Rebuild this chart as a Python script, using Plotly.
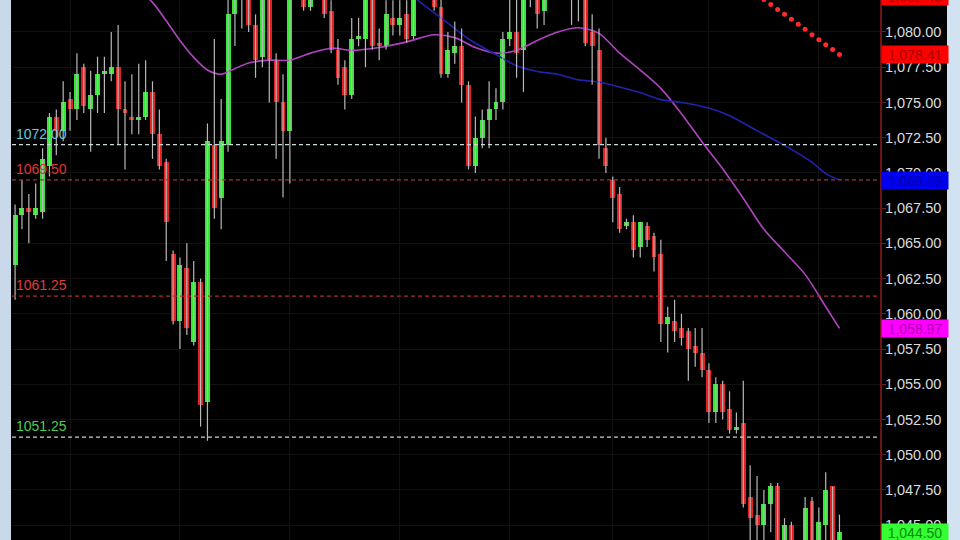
import plotly.graph_objects as go

# ---------------- data ----------------
open_ = [1063.5, 1067.0, 1067.5, 1067.0, 1067.25, 1070.5, 1074.0, 1073.0, 1075.25, 1074.5,
         1077.5, 1074.5, 1075.5, 1077.0, 1077.0, 1077.5, 1074.5, 1074.0, 1073.75, 1074.0,
         1075.75, 1072.75, 1070.75, 1064.25, 1059.5, 1063.25, 1058.0, 1062.25, 1053.75, 1072.0,
         1068.25, 1072.0, 1081.25, 1083.0, 1083.5, 1080.5, 1078.25, 1082.5, 1078.0, 1075.0,
         1073.0, 1083.0, 1083.0, 1081.75, 1083.0, 1083.0, 1081.5, 1078.75, 1077.5, 1075.5,
         1079.5, 1079.5, 1082.5, 1079.25, 1079.0, 1081.0, 1080.5, 1081.25, 1079.75, 1083.0,
         1084.0, 1083.5, 1081.75, 1077.0, 1078.5, 1079.0, 1076.25, 1070.5, 1072.5, 1073.75,
         1074.5, 1075.0, 1079.5, 1080.0, 1078.75, 1083.0, 1082.5, 1081.5, 1083.5, 1084.5,
         1085.0, 1084.0, 1083.5, 1083.0, 1080.0, 1078.75, 1071.75, 1069.5, 1068.5, 1066.25,
         1066.5, 1064.75, 1066.25, 1065.5, 1064.25, 1059.25, 1059.5, 1059.0, 1058.75, 1057.75,
         1057.25, 1056.0, 1053.0, 1055.0, 1053.25, 1051.75, 1052.25, 1047.0, 1045.75, 1045.0,
         1046.5, 1047.75, 1043.75, 1045.0, 1043.5, 1043.5, 1046.75, 1043.5, 1045.0, 1047.75,
         1043.75]
high = [1067.75, 1069.5, 1068.5, 1069.25, 1071.75, 1074.25, 1074.5, 1076.5, 1075.75, 1078.5,
        1077.75, 1077.25, 1078.25, 1078.25, 1080.0, 1080.5, 1076.5, 1077.0, 1077.75, 1078.0,
        1076.5, 1074.5, 1071.0, 1064.5, 1064.0, 1065.0, 1063.75, 1062.5, 1073.5, 1079.5,
        1075.25, 1083.0, 1084.0, 1084.5, 1084.0, 1081.25, 1083.5, 1083.5, 1078.5, 1077.0,
        1084.0, 1084.5, 1084.0, 1084.0, 1084.5, 1084.0, 1082.25, 1079.5, 1078.0, 1081.0,
        1081.0, 1083.5, 1083.5, 1080.25, 1082.25, 1082.25, 1082.25, 1082.25, 1083.5, 1084.5,
        1085.0, 1084.5, 1082.5, 1080.0, 1080.75, 1080.25, 1076.5, 1074.0, 1074.5, 1076.5,
        1076.0, 1080.0, 1082.5, 1082.5, 1083.5, 1084.0, 1083.5, 1083.5, 1085.0, 1085.5,
        1086.0, 1085.0, 1084.5, 1084.0, 1081.25, 1080.25, 1072.5, 1069.75, 1069.0, 1066.75,
        1067.0, 1066.5, 1066.5, 1065.75, 1065.25, 1060.5, 1061.0, 1060.0, 1059.0, 1059.0,
        1059.0, 1056.5, 1055.5, 1055.25, 1054.5, 1053.0, 1055.25, 1049.25, 1048.5, 1047.5,
        1048.0, 1048.0, 1045.5, 1045.25, 1043.75, 1047.0, 1047.0, 1046.25, 1048.75, 1047.75,
        1045.75]
low = [1061.0, 1066.0, 1065.0, 1066.75, 1066.75, 1069.75, 1071.25, 1072.25, 1073.0, 1073.75,
       1074.25, 1071.5, 1074.25, 1074.25, 1076.5, 1072.0, 1070.25, 1072.75, 1072.75, 1073.75,
       1071.0, 1070.25, 1063.75, 1059.25, 1057.5, 1058.5, 1057.75, 1052.0, 1051.0, 1066.75,
       1066.0, 1071.5, 1079.0, 1080.25, 1080.0, 1076.75, 1077.5, 1075.0, 1071.0, 1068.25,
       1069.25, 1082.75, 1081.5, 1081.5, 1082.75, 1081.0, 1078.5, 1076.25, 1074.5, 1075.25,
       1079.0, 1077.5, 1078.75, 1078.0, 1078.75, 1079.75, 1079.75, 1079.25, 1079.5, 1082.5,
       1082.75, 1081.5, 1076.75, 1076.75, 1077.75, 1075.0, 1070.25, 1070.0, 1071.75, 1071.75,
       1073.75, 1074.5, 1079.0, 1076.75, 1075.75, 1081.75, 1080.25, 1080.5, 1083.0, 1083.5,
       1083.25, 1080.5, 1080.75, 1079.0, 1076.25, 1071.0, 1070.0, 1066.5, 1065.75, 1066.0,
       1064.0, 1064.0, 1064.75, 1063.0, 1058.0, 1057.25, 1058.0, 1057.75, 1055.25, 1056.25,
       1055.5, 1052.25, 1052.25, 1052.5, 1051.5, 1051.5, 1046.25, 1043.5, 1043.5, 1043.75,
       1044.5, 1043.25, 1043.25, 1043.25, 1042.75, 1043.25, 1043.25, 1043.25, 1043.5, 1043.25,
       1043.25]
close = [1067.0, 1067.5, 1067.25, 1067.5, 1071.0, 1074.0, 1073.0, 1075.0, 1074.5, 1077.0,
         1074.75, 1075.5, 1077.0, 1077.25, 1077.5, 1074.5, 1074.25, 1073.75, 1074.0, 1075.75,
         1072.75, 1070.5, 1066.5, 1059.5, 1063.5, 1059.0, 1062.25, 1053.5, 1072.25, 1067.5,
         1072.25, 1081.25, 1083.0, 1083.5, 1080.5, 1078.0, 1082.5, 1078.0, 1075.0, 1073.0,
         1083.0, 1084.0, 1081.75, 1083.0, 1084.0, 1081.25, 1078.75, 1076.75, 1075.5, 1079.5,
         1079.75, 1082.5, 1079.0, 1079.0, 1081.25, 1080.5, 1081.0, 1079.5, 1082.5, 1084.0,
         1083.5, 1081.75, 1077.0, 1078.75, 1079.0, 1076.25, 1070.5, 1072.5, 1073.75, 1074.5,
         1075.0, 1079.5, 1080.0, 1078.5, 1082.5, 1083.5, 1081.25, 1082.5, 1084.5, 1085.0,
         1084.0, 1083.5, 1083.0, 1079.25, 1079.0, 1072.0, 1070.5, 1068.25, 1066.0, 1066.5,
         1064.5, 1066.5, 1065.25, 1064.0, 1059.25, 1059.75, 1058.75, 1058.25, 1057.5, 1057.25,
         1056.0, 1053.0, 1055.0, 1053.0, 1051.75, 1052.0, 1046.5, 1045.5, 1045.0, 1046.5,
         1047.75, 1043.75, 1045.0, 1043.75, 1043.25, 1046.25, 1043.5, 1045.25, 1047.5, 1043.75,
         1044.5]

# moving averages (bar index, price)
ma_fast_idx = [18, 20, 22, 24, 26, 28, 30, 32, 34, 37, 40, 43, 46, 49, 53, 57, 61, 64, 67, 70,
               73, 76, 79, 82, 85, 88, 91, 94, 97, 100, 103, 106, 109, 112, 115, 118, 120]
ma_fast = [1083.0, 1082.1, 1080.8, 1079.4, 1078.2, 1077.3, 1077.0, 1077.4, 1077.8, 1078.0,
           1078.0, 1078.5, 1078.85, 1078.7, 1078.9, 1079.3, 1079.8, 1079.6, 1078.9, 1078.5,
           1078.7, 1079.4, 1080.0, 1080.3, 1079.9, 1078.5, 1077.3, 1076.0, 1074.2, 1072.2,
           1070.3, 1068.2, 1066.0, 1064.4, 1062.8, 1060.5, 1058.97]
ma_slow_idx = [57, 59, 62, 66, 70, 73, 76, 79, 82, 85, 88, 91, 94, 97, 101, 104, 108, 112,
               116, 118, 120]
ma_slow = [1083.0, 1082.1, 1081.0, 1079.5, 1078.4, 1077.6, 1077.2, 1077.0, 1076.6, 1076.45,
           1076.1, 1075.7, 1075.2, 1075.0, 1074.6, 1074.05, 1073.0, 1071.95, 1070.75, 1069.95,
           1069.49]

# stop dots
stop_idx = [107, 108, 109, 110, 111, 112, 113, 114, 115, 116, 117, 118, 119, 120]
stop_val = [1083.0, 1082.65, 1082.3, 1081.95, 1081.6, 1081.25, 1080.9, 1080.55, 1080.2,
            1079.8, 1079.45, 1079.1, 1078.75, 1078.41]

# horizontal levels
level_vals = [1072.00, 1069.50, 1061.25, 1051.25]
level_text = ["1072.00", "1069.50", "1061.25", "1051.25"]
level_text_colors = ["#6fc4dc", "#e03434", "#e03c3c", "#4fcf4f"]
level_line_colors = ["#c8dcdc", "#a83030", "#a83030", "#c0d8c0"]

# last-value boxes on the price axis (first one sits just above the visible range)
box_vals = [1082.45, 1078.41, 1069.49, 1058.97, 1044.50]
box_text = ["1,082.45", "1,078.41", "1,069.49", "1,058.97", "1,044.50"]
box_bg = ["#ff0000", "#ff0000", "#0000f0", "#ff00ff", "#33ff33"]
box_fg = ["#a80000", "#a80000", "#0000a8", "#b000b0", "#0a8a0a"]

y_ticks = [1045.0, 1047.5, 1050.0, 1052.5, 1055.0, 1057.5, 1060.0, 1062.5, 1065.0,
           1067.5, 1070.0, 1072.5, 1075.0, 1077.5, 1080.0]
grid_x = [8, 24, 40, 56, 72, 87, 101, 117]

# ---------------- figure ----------------
n = len(open_)
idx = list(range(n))
GREEN = "#34e834"
RED = "#e22222"
FONT = "Arial, Liberation Sans, sans-serif"
Y_MIN, Y_MAX = 1043.95, 1082.27

fig = go.Figure()

fig.add_trace(go.Scatter(x=ma_fast_idx, y=ma_fast, mode="lines",
                         line=dict(color="#b044c0", width=1.6, shape="spline", smoothing=0.8),
                         hoverinfo="skip"))
fig.add_trace(go.Scatter(x=ma_slow_idx, y=ma_slow, mode="lines",
                         line=dict(color="#2222b0", width=1.6, shape="spline", smoothing=0.8),
                         hoverinfo="skip"))

wx, wy = [], []
for i in idx:
    wx += [i, i, None]
    wy += [low[i], high[i], None]
fig.add_trace(go.Scatter(x=wx, y=wy, mode="lines",
                         line=dict(color="#b8b8b8", width=1.2), hoverinfo="skip"))

base = [min(o, c) for o, c in zip(open_, close)]
height = [abs(c - o) for o, c in zip(open_, close)]
colors = [GREEN if c >= o else RED for o, c in zip(open_, close)]
fig.add_trace(go.Bar(x=idx, y=height, base=base, width=0.72,
                     marker=dict(color=colors, line=dict(width=0)), hoverinfo="skip"))

fig.add_trace(go.Scatter(x=stop_idx, y=stop_val, mode="markers",
                         marker=dict(color="#ff2a2a", size=5), hoverinfo="skip"))

shapes = []
for v, lc in zip(level_vals, level_line_colors):
    shapes.append(dict(type="line", xref="paper", x0=0, x1=0.997, yref="y", y0=v, y1=v,
                       line=dict(color=lc, width=1.3, dash="4px,3px"), layer="above"))
# light window borders
shapes.append(dict(type="rect", xref="paper", yref="paper", x0=-12 / 868, x1=-1 / 868,
                   y0=0, y1=1, fillcolor="#c9d9e9", line=dict(width=0), layer="above"))
shapes.append(dict(type="rect", xref="paper", yref="paper", x0=935 / 868,
                   x1=948 / 868, y0=0, y1=1, fillcolor="#d2e2f0", line=dict(width=0),
                   layer="above"))

annotations = []
for v, t, c in zip(level_vals, level_text, level_text_colors):
    annotations.append(dict(xref="paper", x=0, xanchor="left", xshift=2, yref="y", y=v,
                            yanchor="bottom", yshift=1, text=t, showarrow=False,
                            font=dict(family=FONT, size=14, color=c)))
for v, t, bg, fg in zip(box_vals, box_text, box_bg, box_fg):
    ann = dict(xref="paper", x=1, xanchor="left", xshift=1, yanchor="middle", text=t,
               showarrow=False, bgcolor=bg, width=64, height=15, borderpad=1,
               align="center", font=dict(family=FONT, size=14, color=fg))
    if v > Y_MAX:
        # value lies above the axis range: pin the box to the top edge
        ann.update(yref="paper", y=1, yshift=4)
    else:
        ann.update(yref="y", y=v)
    annotations.append(ann)

fig.update_layout(
    width=960, height=540,
    margin=dict(l=12, r=80, t=0, b=0),
    paper_bgcolor="#000000", plot_bgcolor="#000000",
    showlegend=False, bargap=0,
    shapes=shapes, annotations=annotations,
    xaxis=dict(range=[-0.45, 125.9], showticklabels=False, ticks="", zeroline=False,
               showgrid=True, gridcolor="#111111", tickvals=grid_x, showline=False),
    yaxis=dict(range=[Y_MIN, Y_MAX], side="right", tickvals=y_ticks,
               tickformat=",.2f", ticks="outside", ticklen=4, tickcolor="#7a1a1a",
               ticklabelstandoff=-4,
               tickfont=dict(family=FONT, size=14.5, color="#dcdcdc"),
               showgrid=True, gridcolor="#111111", zeroline=False,
               showline=True, linecolor="#6a1414", linewidth=2),
)

fig.write_html("out.html", config={"displayModeBar": False},
               post_script="document.body.style.margin='0';document.body.style.overflow='hidden';")
